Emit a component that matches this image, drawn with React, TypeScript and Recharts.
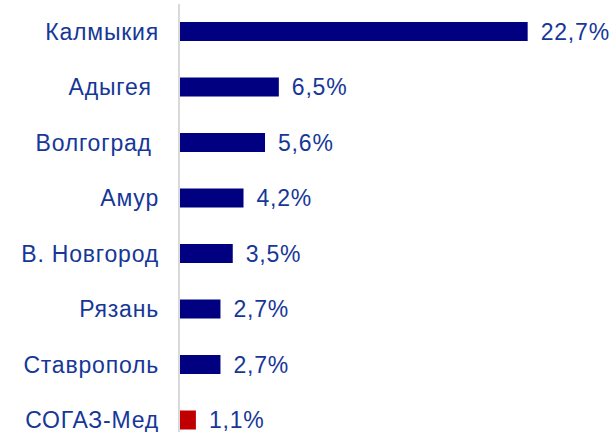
import React from "react";
import { BarChart, Bar, XAxis, YAxis, Cell, LabelList } from "recharts";

const regions = ["Калмыкия", "Адыгея ", "Волгоград ", "Амур", "В. Новгород", "Рязань", "Ставрополь", "СОГАЗ-Мед"];
const shares = [22.7, 6.5, 5.6, 4.2, 3.5, 2.7, 2.7, 1.1];
const barColors = ["#000080", "#000080", "#000080", "#000080", "#000080", "#000080", "#000080", "#C00000"];

const data = regions.map((name, i) => ({ name, value: shares[i], color: barColors[i] }));

const textColor = "#163797";
const font = "'Liberation Sans', Arial, sans-serif";

const fmt = (v: any) => `${Number(v).toFixed(1).replace(".", ",")}%`;

function CategoryTick(props: any) {
    const { x, y, payload } = props;
    return (
        <text
            x={x}
            y={y}
            dy={8}
            textAnchor="end"
            fill={textColor}
            fontSize={23}
            fontFamily={font}
            letterSpacing={0.8}
            style={{ whiteSpace: "pre" }}
        >
            {payload.value}
        </text>
    );
}

export default function App() {
    return (
        <div style={{ position: "fixed", top: 0, left: 0, width: 613, height: 432, overflow: "hidden", background: "#fff" }}>
            <BarChart
                width={613}
                height={448}
                data={data}
                layout="vertical"
                margin={{ top: 4, right: 50, left: 0, bottom: 0 }}
            >
                <XAxis type="number" domain={[0, 25]} hide />
                <YAxis
                    type="category"
                    dataKey="name"
                    width={179}
                    axisLine={{ stroke: "#d9d9d9", strokeWidth: 2 }}
                    tickLine={false}
                    tickSize={0}
                    tickMargin={20}
                    interval={0}
                    tick={<CategoryTick />}
                />
                <Bar dataKey="value" barSize={19} isAnimationActive={false}>
                    {data.map((d, i) => (
                        <Cell key={i} fill={d.color} />
                    ))}
                    <LabelList
                        dataKey="value"
                        position="right"
                        offset={13}
                        formatter={fmt}
                        fill={textColor}
                        fontSize={23}
                        fontFamily={font}
                        letterSpacing={0.8}
                    />
                </Bar>
            </BarChart>
        </div>
    );
}
